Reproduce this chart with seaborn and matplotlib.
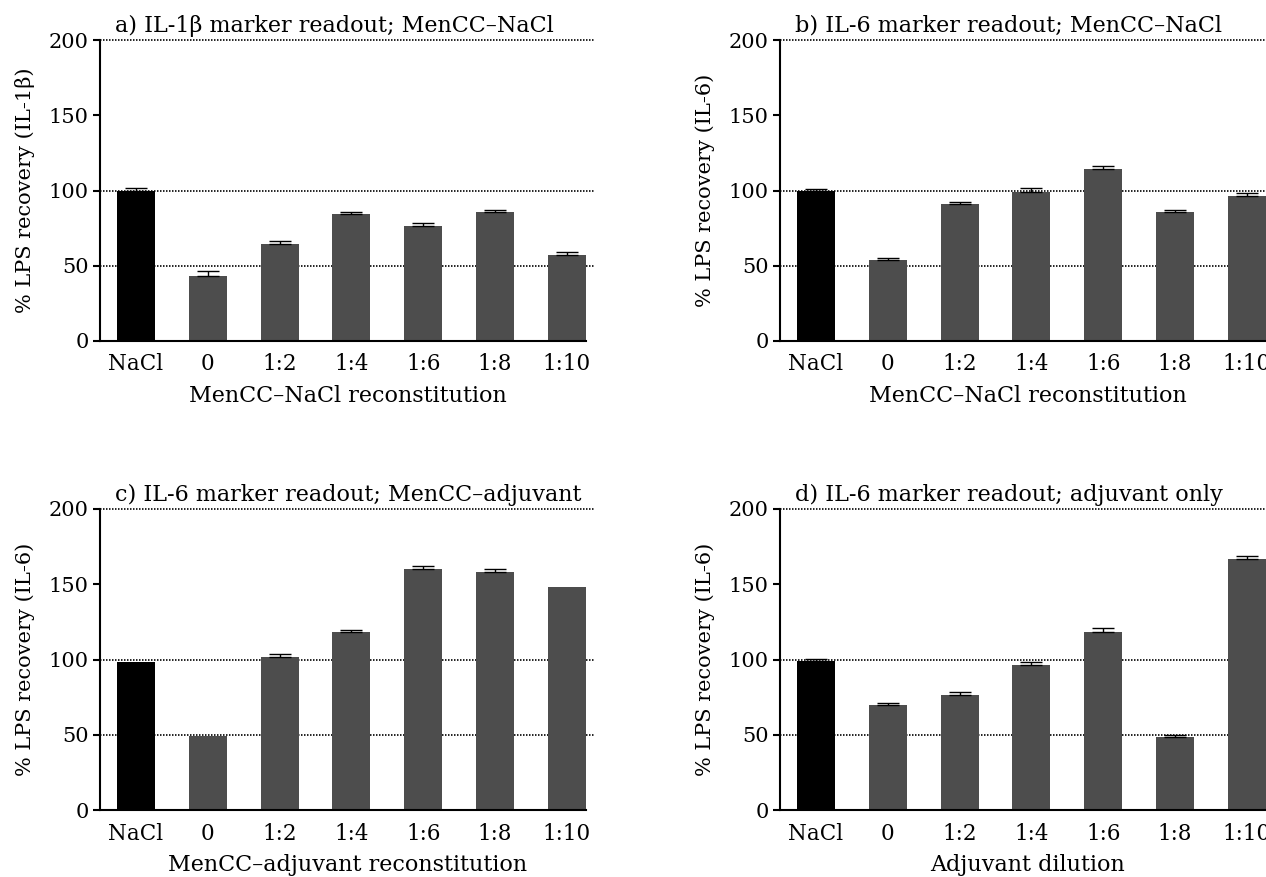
import numpy as np
import pandas as pd
import matplotlib
matplotlib.use("Agg")
import matplotlib.pyplot as plt
import seaborn as sns

sns.set_style("white")
plt.rcParams["font.family"] = ["DejaVu Serif"]
plt.rcParams["font.size"] = 15.5
plt.rcParams["text.color"] = "black"
plt.rcParams["axes.labelcolor"] = "black"
plt.rcParams["xtick.color"] = "black"
plt.rcParams["ytick.color"] = "black"

# Categories (x axis) shared by every panel
categories = ["NaCl", "0", "1:2", "1:4", "1:6", "1:8", "1:10"]

# a) IL-1b, MenCC-NaCl
a_values = [100, 43.2, 64.5, 84.4, 76.4, 85.7, 57.1]
a_errors = [1.7, 3.5, 1.8, 1.3, 2.2, 1.5, 1.8]

# b) IL-6, MenCC-NaCl
b_values = [99.8, 53.8, 91.0, 99.0, 114.3, 85.7, 96.3]
b_errors = [1.0, 1.6, 1.5, 2.5, 1.8, 1.5, 1.8]

# c) IL-6, MenCC-adjuvant
c_values = [98.5, 49.4, 101.6, 118.3, 160.1, 158.1, 148.0]
c_errors = [0, 0, 1.8, 1.1, 1.8, 2.2, 0]

# d) IL-6, adjuvant only
d_values = [99.0, 69.6, 76.2, 96.1, 118.3, 48.7, 166.8]
d_errors = [1.5, 1.7, 2.2, 2.0, 2.6, 1.4, 2.2]

titles = [
    "a) IL-1\u03b2 marker readout; MenCC\u2013NaCl",
    "b) IL-6 marker readout; MenCC\u2013NaCl",
    "c) IL-6 marker readout; MenCC\u2013adjuvant",
    "d) IL-6 marker readout; adjuvant only",
]
ylabels = [
    "% LPS recovery (IL-1\u03b2)",
    "% LPS recovery (IL-6)",
    "% LPS recovery (IL-6)",
    "% LPS recovery (IL-6)",
]
xlabels = [
    "MenCC\u2013NaCl reconstitution",
    "MenCC\u2013NaCl reconstitution",
    "MenCC\u2013adjuvant reconstitution",
    "Adjuvant dilution",
]
panel_values = [a_values, b_values, c_values, d_values]
panel_errors = [a_errors, b_errors, c_errors, d_errors]

bar_colors = ["#000000"] + ["#4d4d4d"] * (len(categories) - 1)
palette = dict(zip(categories, bar_colors))

W, H = 1266, 877
fig = plt.figure(figsize=(W / 100, H / 100), dpi=100)

# axes boxes in pixels: left, top, right, bottom
boxes = [(100, 40, 595, 341), (780, 40, 1275, 341),
         (100, 509, 595, 810), (780, 509, 1275, 810)]

for i, (l, t, r, b) in enumerate(boxes):
    ax = fig.add_axes([l / W, 1 - b / H, (r - l) / W, (b - t) / H])
    df = pd.DataFrame({"group": categories, "value": panel_values[i]})
    sns.barplot(data=df, x="group", y="value", hue="group", order=categories,
                palette=palette, width=0.53, saturation=1, legend=False,
                errorbar=None, linewidth=0, ax=ax, zorder=2)

    # only the upper half of each error bar shows above the bar
    errs = np.array(panel_errors[i])
    vals = np.array(panel_values[i])
    xs = np.arange(len(categories))
    m = errs > 0
    ax.errorbar(xs[m], vals[m], yerr=[np.zeros(m.sum()), errs[m]], fmt="none",
                ecolor="black", elinewidth=1.0, capsize=8, capthick=1.0, zorder=3)

    for yv in [50, 100, 200]:
        ax.axhline(yv, color="black", lw=1.2, ls=(0, (0.9, 0.9)), zorder=1,
                   clip_on=False)

    ax.set_xlim(-0.5, 6.39)
    ax.set_ylim(0, 200)
    ax.set_yticks([0, 50, 100, 150, 200])
    ax.spines["top"].set_visible(False)
    ax.spines["right"].set_visible(False)
    for side in ["left", "bottom"]:
        ax.spines[side].set_linewidth(1.5)
        ax.spines[side].set_color("black")
    ax.spines["bottom"].set_bounds(-0.5, 6.265)
    ax.tick_params(axis="y", direction="out", length=5, width=1.5, pad=3,
                   left=True, labelsize=15)
    ax.tick_params(axis="x", length=0, pad=9, labelsize=15.5)
    ax.set_xlabel(xlabels[i], labelpad=7, fontsize=16)
    ax.set_ylabel(ylabels[i], labelpad=10, fontsize=15)
    ax.text(0.03, 1.027, titles[i], transform=ax.transAxes, ha="left",
            va="baseline", fontsize=16)

fig.savefig("out.png", dpi=100)
